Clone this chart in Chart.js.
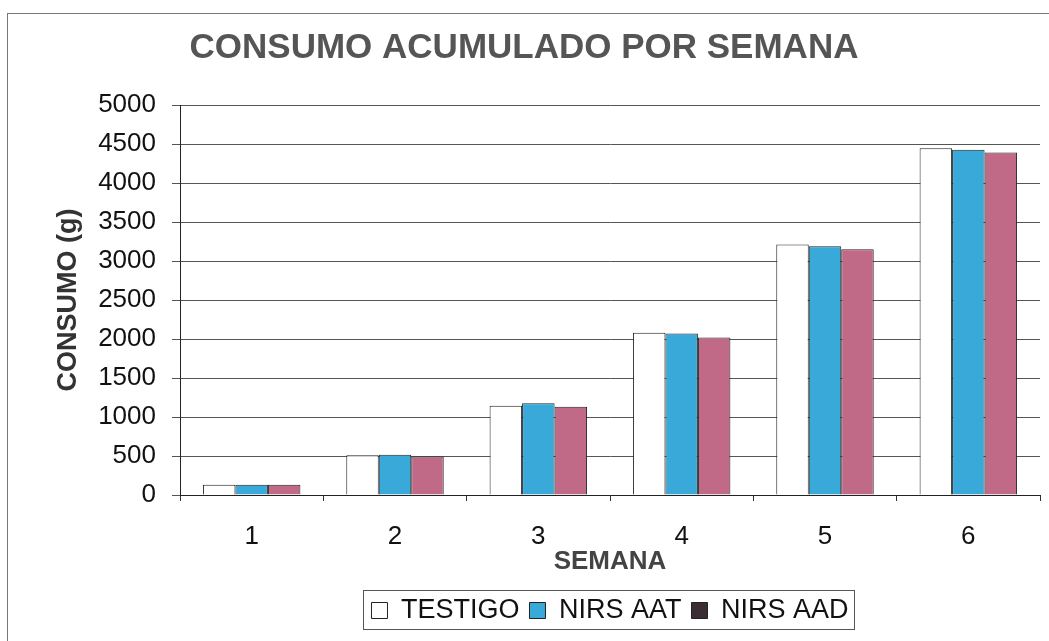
<!DOCTYPE html>
<html>
<head>
<meta charset="utf-8">
<script src="https://cdn.jsdelivr.net/npm/chart.js@4.4.1/dist/chart.umd.min.js"></script>
<style>
  html, body { margin: 0; padding: 0; background: #fff; }
  #wrap { position: relative; width: 1049px; height: 641px; }
  #frame { position: absolute; left: 7px; top: 13px; right: 0; bottom: 0; border-left: 1px solid #777; border-top: 1px solid #777; pointer-events: none; }
  canvas { display: block; }
</style>
</head>
<body>
<div id="wrap">
  <canvas id="c" width="1049" height="641"></canvas>
  <div id="frame"></div>
</div>
<script>
const semanas = ['1', '2', '3', '4', '5', '6'];
const testigo = [130, 510, 1145, 2080, 3210, 4445];
const nirsAAT = [130, 515, 1175, 2070, 3190, 4425];
const nirsAAD = [130, 495, 1130, 2020, 3150, 4390];
const seriesNames = ['TESTIGO', 'NIRS AAT', 'NIRS AAD'];

const FONT = "'Liberation Sans', Arial, sans-serif";

const legendBox = {
  id: 'legendBox',
  afterDraw(chart) {
    const lg = chart.legend;
    if (!lg || !lg.legendHitBoxes || !lg.legendHitBoxes.length) return;
    const hb = lg.legendHitBoxes;
    let l = Infinity, r = -Infinity, t = Infinity, b = -Infinity;
    hb.forEach(h => { l = Math.min(l, h.left); r = Math.max(r, h.left + h.width); t = Math.min(t, h.top); b = Math.max(b, h.top + h.height); });
    const ctx = chart.ctx;
    ctx.save();
    ctx.strokeStyle = '#555';
    ctx.lineWidth = 1;
    ctx.strokeRect(Math.round(l - 8) + 0.5, Math.round(t - 7) + 0.5, Math.round(r - l + 14), Math.round(b - t + 12));
    ctx.restore();
  }
};

new Chart(document.getElementById('c'), {
  type: 'bar',
  data: {
    labels: semanas,
    datasets: [
      { label: seriesNames[0], data: testigo, backgroundColor: '#ffffff', borderColor: '#222', borderWidth: 1 },
      { label: seriesNames[1], data: nirsAAT, backgroundColor: '#38a9d9', borderColor: '#222', borderWidth: 1 },
      { label: seriesNames[2], data: nirsAAD, backgroundColor: '#c06a88', borderColor: '#222', borderWidth: 1 }
    ]
  },
  options: {
    responsive: false,
    animation: false,
    devicePixelRatio: 1,
    layout: { padding: { left: 8, right: 9, top: 0, bottom: 7 } },
    datasets: { bar: { categoryPercentage: 0.68, barPercentage: 1.0 } },
    plugins: {
      title: {
        display: true,
        text: 'CONSUMO ACUMULADO POR SEMANA',
        color: '#555',
        font: { family: FONT, size: 35, weight: 'bold' },
        padding: { top: 27, bottom: 36 }
      },
      legend: {
        position: 'bottom',
        fullSize: false,
        labels: {
          color: '#111',
          font: { family: FONT, size: 27 },
          boxWidth: 16,
          boxHeight: 16,
          padding: 10,
          generateLabels(chart) {
            const fills = ['#ffffff', '#38a9d9', '#3a2e34'];
            return chart.data.datasets.map((ds, i) => ({
              text: ds.label,
              fillStyle: fills[i],
              strokeStyle: '#222',
              lineWidth: 1,
              hidden: false,
              datasetIndex: i,
              fontColor: '#111'
            }));
          }
        }
      },
      tooltip: { enabled: false }
    },
    scales: {
      x: {
        grid: { display: true, drawOnChartArea: false, drawTicks: true, tickLength: 6, color: '#333', offset: true },
        border: { display: true, color: '#222', width: 1 },
        ticks: { color: '#111', font: { family: FONT, size: 26 }, padding: 20 },
        title: { display: true, text: 'SEMANA', color: '#444', font: { family: FONT, size: 26, weight: 'bold' }, padding: { top: 0, bottom: 10 } },
        afterFit(s) { s.height = 92; }
      },
      y: {
        min: 0,
        max: 5000,
        ticks: { stepSize: 500, color: '#111', font: { family: FONT, size: 26 }, padding: 16, callback: (v) => String(v) },
        grid: { color: '#555', lineWidth: 1, tickLength: 8, drawTicks: true },
        border: { display: true, color: '#222', width: 1 },
        title: { display: true, text: 'CONSUMO (g)', color: '#333', font: { family: FONT, size: 27, weight: 'bold' }, padding: { top: 44, bottom: 0 } },
        afterFit(s) { s.width = 172; }
      }
    }
  },
  plugins: [legendBox]
});
</script>
</body>
</html>
